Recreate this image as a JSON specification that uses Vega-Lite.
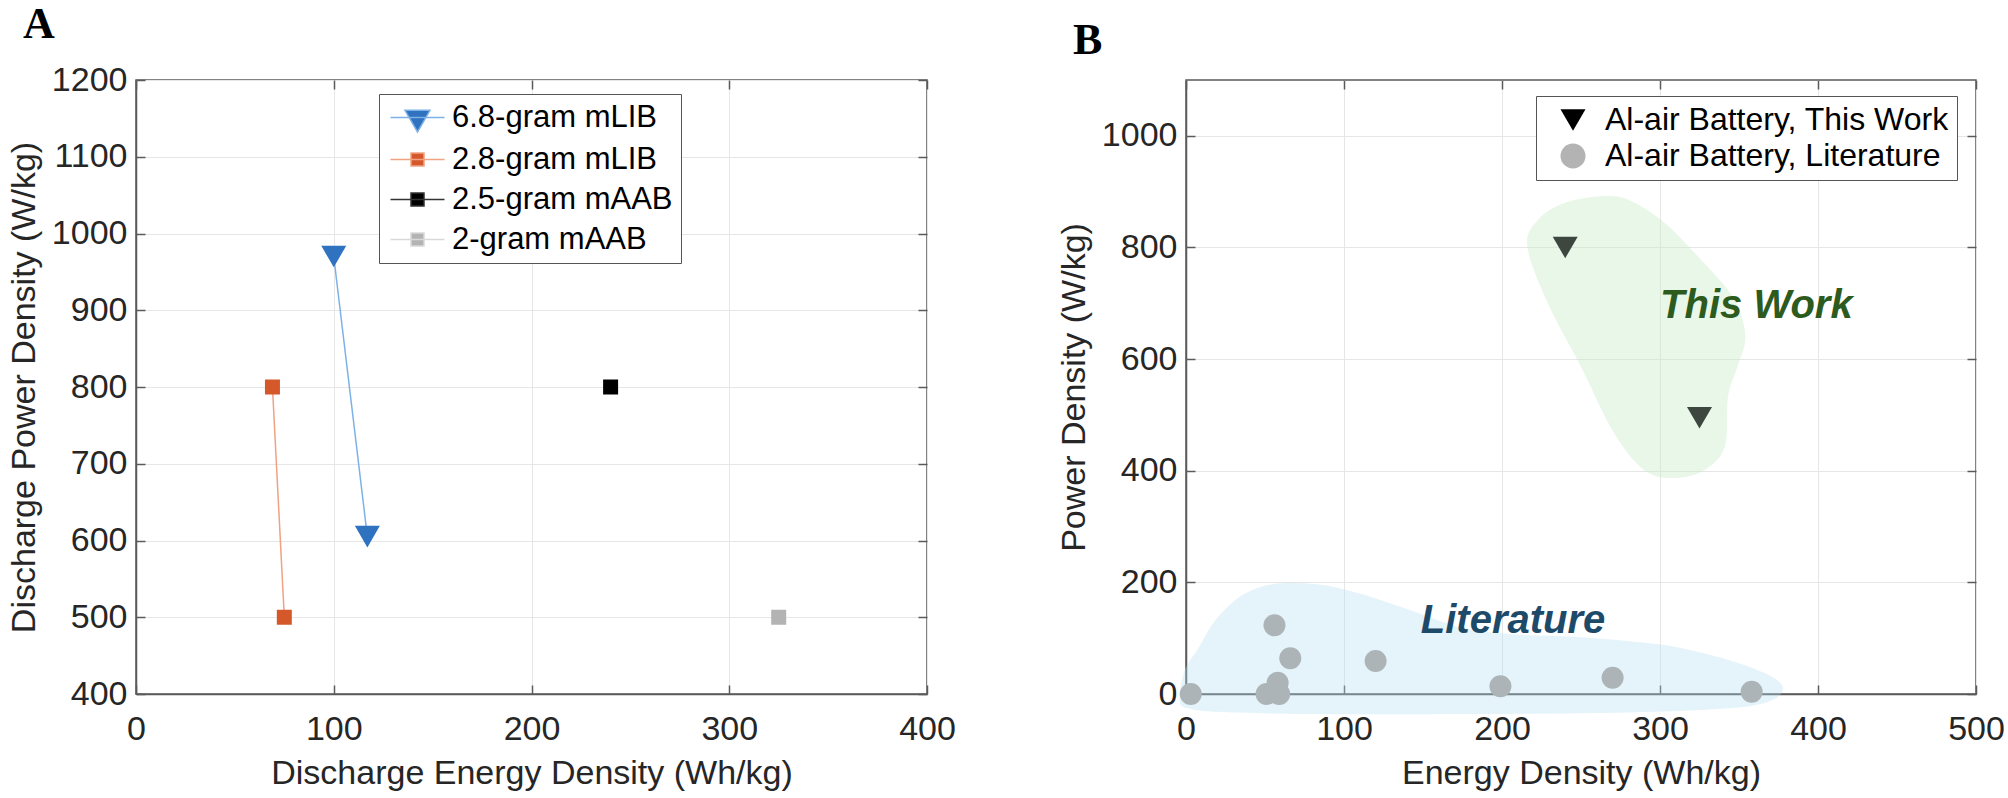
{
  "$schema": "https://vega.github.io/schema/vega-lite/v6.json",
  "autosize": {"type": "pad"},
  "padding": {"left": 6, "top": 2, "right": 0, "bottom": 0},
  "background": "white",
  "config": {
    "font": "Liberation Sans",
    "view": {"stroke": "#5a5a5a", "strokeWidth": 1.5},
    "axis": {
      "labelFont": "Liberation Sans", "labelFontSize": 34, "labelColor": "#262626", "format": "d",
      "titleFont": "Liberation Sans", "titleFontSize": 34, "titleFontWeight": "normal", "titleColor": "#262626",
      "domainColor": "#5a5a5a", "domainWidth": 1.5,
      "gridColor": "#e6e6e6", "gridWidth": 1,
      "tickColor": "#5a5a5a", "tickSize": -9, "tickWidth": 1.5,
      "labelFlush": false, "labelOverlap": false, "titlePadding": 10
    },
    "axisX": {"labelPadding": 27},
    "axisY": {"labelPadding": 18}
  },
  "datasets": {
    "seriesA": [
      {"series": "6.8-gram mLIB", "x": 100, "y": 970},
      {"series": "6.8-gram mLIB", "x": 117, "y": 605},
      {"series": "2.8-gram mLIB", "x": 69, "y": 800},
      {"series": "2.8-gram mLIB", "x": 75, "y": 500},
      {"series": "2.5-gram mAAB", "x": 240, "y": 800},
      {"series": "2-gram mAAB", "x": 325, "y": 500}
    ],
    "pointsB": [
      {"series": "Al-air Battery, This Work", "x": 240, "y": 800},
      {"series": "Al-air Battery, This Work", "x": 325, "y": 495},
      {"series": "Al-air Battery, Literature", "x": 3, "y": 0},
      {"series": "Al-air Battery, Literature", "x": 56, "y": 123},
      {"series": "Al-air Battery, Literature", "x": 66, "y": 64},
      {"series": "Al-air Battery, Literature", "x": 58, "y": 20},
      {"series": "Al-air Battery, Literature", "x": 51, "y": 0},
      {"series": "Al-air Battery, Literature", "x": 59, "y": 0},
      {"series": "Al-air Battery, Literature", "x": 120, "y": 59},
      {"series": "Al-air Battery, Literature", "x": 199, "y": 14},
      {"series": "Al-air Battery, Literature", "x": 270, "y": 29},
      {"series": "Al-air Battery, Literature", "x": 358, "y": 4}
    ],
    "blobs": [
      {"blob": "work", "i": 1, "x": 216, "y": 802},
      {"blob": "work", "i": 2, "x": 229, "y": 700},
      {"blob": "work", "i": 3, "x": 250, "y": 586},
      {"blob": "work", "i": 4, "x": 271, "y": 467},
      {"blob": "work", "i": 5, "x": 290, "y": 401},
      {"blob": "work", "i": 6, "x": 309, "y": 387},
      {"blob": "work", "i": 7, "x": 328, "y": 401},
      {"blob": "work", "i": 8, "x": 341, "y": 443},
      {"blob": "work", "i": 9, "x": 343, "y": 532},
      {"blob": "work", "i": 10, "x": 349, "y": 586},
      {"blob": "work", "i": 11, "x": 354, "y": 634},
      {"blob": "work", "i": 12, "x": 351, "y": 682},
      {"blob": "work", "i": 13, "x": 343, "y": 724},
      {"blob": "work", "i": 14, "x": 324, "y": 784},
      {"blob": "work", "i": 15, "x": 303, "y": 844},
      {"blob": "work", "i": 16, "x": 282, "y": 883},
      {"blob": "work", "i": 17, "x": 265, "y": 892},
      {"blob": "work", "i": 18, "x": 240, "y": 880},
      {"blob": "work", "i": 19, "x": 223, "y": 850},
      {"blob": "lit", "i": 1, "x": -4, "y": -13},
      {"blob": "lit", "i": 2, "x": -1, "y": 41},
      {"blob": "lit", "i": 3, "x": 8, "y": 83},
      {"blob": "lit", "i": 4, "x": 20, "y": 137},
      {"blob": "lit", "i": 5, "x": 37, "y": 179},
      {"blob": "lit", "i": 6, "x": 58, "y": 198},
      {"blob": "lit", "i": 7, "x": 84, "y": 196},
      {"blob": "lit", "i": 8, "x": 111, "y": 179},
      {"blob": "lit", "i": 9, "x": 143, "y": 149},
      {"blob": "lit", "i": 10, "x": 174, "y": 119},
      {"blob": "lit", "i": 11, "x": 206, "y": 107},
      {"blob": "lit", "i": 12, "x": 248, "y": 102},
      {"blob": "lit", "i": 13, "x": 299, "y": 89},
      {"blob": "lit", "i": 14, "x": 330, "y": 71},
      {"blob": "lit", "i": 15, "x": 358, "y": 47},
      {"blob": "lit", "i": 16, "x": 375, "y": 23},
      {"blob": "lit", "i": 17, "x": 377, "y": 2},
      {"blob": "lit", "i": 18, "x": 366, "y": -16},
      {"blob": "lit", "i": 19, "x": 341, "y": -26},
      {"blob": "lit", "i": 20, "x": 280, "y": -33},
      {"blob": "lit", "i": 21, "x": 180, "y": -36},
      {"blob": "lit", "i": 22, "x": 80, "y": -36},
      {"blob": "lit", "i": 23, "x": 20, "y": -32},
      {"blob": "lit", "i": 24, "x": 2, "y": -26}
    ],
    "notes": [
      {"label": "This Work", "x": 361, "y": 674},
      {"label": "Literature", "x": 207, "y": 110}
    ]
  },
  "bounds": "flush",
  "spacing": 259,
  "resolve": {
    "scale": {"shape": "independent", "fill": "independent", "stroke": "independent"},
    "legend": {"shape": "independent", "fill": "independent", "stroke": "independent"}
  },
  "hconcat": [
    {
      "width": 791,
      "height": 614,
      "title": {"text": "A", "anchor": "start", "frame": "group", "dx": -113, "offset": -19, "baseline": "alphabetic", "font": "Liberation Serif", "fontSize": 44, "fontWeight": "bold", "color": "black"},
      "resolve": {"axis": {"x": "independent", "y": "independent"}},
      "layer": [
        {
          "data": {"name": "seriesA"},
          "transform": [{"filter": {"field": "series", "equal": "6.8-gram mLIB"}}],
          "mark": {"type": "line", "stroke": "#7db1e6", "strokeWidth": 1.5},
          "encoding": {
            "x": {"field": "x", "type": "quantitative", "scale": {"domain": [0, 400], "nice": false, "zero": false}, "axis": {"values": [0, 100, 200, 300, 400], "title": "Discharge Energy Density (Wh/kg)"}},
            "y": {"field": "y", "type": "quantitative", "scale": {"domain": [400, 1200], "nice": false, "zero": false}, "axis": {"values": [400, 500, 600, 700, 800, 900, 1000, 1100, 1200], "title": "Discharge Power Density (W/kg)"}}
          }
        },
        {
          "data": {"name": "seriesA"},
          "transform": [{"filter": {"field": "x", "lt": -10000}}],
          "mark": {"type": "point", "opacity": 0},
          "encoding": {
            "x": {"field": "x", "type": "quantitative", "axis": {"orient": "top", "values": [0, 100, 200, 300, 400], "labels": false, "title": null, "grid": false, "domain": false}},
            "y": {"field": "y", "type": "quantitative", "axis": {"orient": "right", "values": [400, 500, 600, 700, 800, 900, 1000, 1100, 1200], "labels": false, "title": null, "grid": false, "domain": false}}
          }
        },
        {
          "data": {"name": "seriesA"},
          "transform": [{"filter": {"field": "series", "equal": "2.8-gram mLIB"}}],
          "mark": {"type": "line", "stroke": "#f0a283", "strokeWidth": 1.5},
          "encoding": {"x": {"field": "x", "type": "quantitative", "axis": null}, "y": {"field": "y", "type": "quantitative", "axis": null}}
        },
        {
          "data": {"name": "seriesA"},
          "transform": [{"filter": {"field": "series", "equal": "6.8-gram mLIB"}}],
          "mark": {"type": "point", "shape": "triangle-down", "size": 625, "filled": true, "fill": "#2e72c0", "opacity": 1, "strokeWidth": 0},
          "encoding": {"x": {"field": "x", "type": "quantitative", "axis": null}, "y": {"field": "y", "type": "quantitative", "axis": null}}
        },
        {
          "data": {"name": "seriesA"},
          "transform": [{"filter": {"field": "series", "equal": "2.8-gram mLIB"}}],
          "mark": {"type": "point", "shape": "square", "size": 225, "filled": true, "fill": "#d4582a", "opacity": 1, "strokeWidth": 0},
          "encoding": {"x": {"field": "x", "type": "quantitative", "axis": null}, "y": {"field": "y", "type": "quantitative", "axis": null}}
        },
        {
          "data": {"name": "seriesA"},
          "transform": [{"filter": {"field": "series", "equal": "2.5-gram mAAB"}}],
          "mark": {"type": "point", "shape": "square", "size": 225, "filled": true, "fill": "#000000", "opacity": 1, "strokeWidth": 0},
          "encoding": {"x": {"field": "x", "type": "quantitative", "axis": null}, "y": {"field": "y", "type": "quantitative", "axis": null}}
        },
        {
          "data": {"name": "seriesA"},
          "transform": [{"filter": {"field": "series", "equal": "2-gram mAAB"}}],
          "mark": {"type": "point", "shape": "square", "size": 225, "filled": true, "fill": "#b3b3b3", "opacity": 1, "strokeWidth": 0},
          "encoding": {"x": {"field": "x", "type": "quantitative", "axis": null}, "y": {"field": "y", "type": "quantitative", "axis": null}}
        },
        {
          "data": {"name": "seriesA"},
          "transform": [{"filter": {"field": "x", "lt": -10000}}],
          "mark": {"type": "point", "filled": true, "opacity": 1, "size": 400, "strokeWidth": 1.5},
          "encoding": {
            "x": {"field": "x", "type": "quantitative", "axis": null},
            "y": {"field": "y", "type": "quantitative", "axis": null},
            "shape": {"field": "series", "type": "nominal",
              "scale": {"domain": ["6.8-gram mLIB", "2.8-gram mLIB", "2.5-gram mAAB", "2-gram mAAB"],
                "range": ["M-2.7,0H2.7M-1.25,-0.72L1.25,-0.72L0,1.44Z", "M-2.7,0H2.7M-0.65,-0.65H0.65V0.65H-0.65Z", "M-2.7,0H2.7M-0.65,-0.65H0.65V0.65H-0.65Z", "M-2.7,0H2.7M-0.65,-0.65H0.65V0.65H-0.65Z"]},
              "legend": {"title": null, "orient": "none", "legendX": 243, "legendY": 14, "padding": 8, "strokeColor": "#555555", "fillColor": "white", "labelFont": "Liberation Sans", "labelFontSize": 31, "labelColor": "black", "labelLimit": 0, "symbolSize": 400, "symbolStrokeWidth": 1.5, "symbolOffset": 15, "labelOffset": 19, "rowPadding": 8}},
            "fill": {"field": "series", "type": "nominal",
              "scale": {"domain": ["6.8-gram mLIB", "2.8-gram mLIB", "2.5-gram mAAB", "2-gram mAAB"], "range": ["#2e72c0", "#d4582a", "#000000", "#b3b3b3"]}},
            "stroke": {"field": "series", "type": "nominal",
              "scale": {"domain": ["6.8-gram mLIB", "2.8-gram mLIB", "2.5-gram mAAB", "2-gram mAAB"], "range": ["#7db1e6", "#f0a283", "#333333", "#d9d9d9"]}}
          }
        }
      ]
    },
    {
      "width": 790,
      "height": 614,
      "title": {"text": "B", "anchor": "start", "frame": "group", "dx": -113, "offset": -19, "baseline": "alphabetic", "font": "Liberation Serif", "fontSize": 44, "fontWeight": "bold", "color": "black"},
      "resolve": {"axis": {"x": "independent", "y": "independent"}},
      "layer": [
        {
          "data": {"name": "blobs"},
          "transform": [{"filter": {"field": "blob", "equal": "work"}}],
          "mark": {"type": "line", "interpolate": "cardinal-closed", "fill": "#c8ecc8", "fillOpacity": 0.4, "strokeOpacity": 0},
          "encoding": {
            "x": {"field": "x", "type": "quantitative", "scale": {"domain": [0, 500], "nice": false, "zero": false}, "axis": {"values": [0, 100, 200, 300, 400, 500], "title": "Energy Density (Wh/kg)"}},
            "y": {"field": "y", "type": "quantitative", "scale": {"domain": [0, 1100], "nice": false, "zero": false}, "axis": {"values": [0, 200, 400, 600, 800, 1000], "title": "Power Density (W/kg)"}},
            "order": {"field": "i", "type": "quantitative"}
          }
        },
        {
          "data": {"name": "pointsB"},
          "transform": [{"filter": {"field": "x", "lt": -10000}}],
          "mark": {"type": "point", "opacity": 0},
          "encoding": {
            "x": {"field": "x", "type": "quantitative", "axis": {"orient": "top", "values": [0, 100, 200, 300, 400, 500], "labels": false, "title": null, "grid": false, "domain": false}},
            "y": {"field": "y", "type": "quantitative", "axis": {"orient": "right", "values": [0, 200, 400, 600, 800, 1000], "labels": false, "title": null, "grid": false, "domain": false}}
          }
        },
        {
          "data": {"name": "blobs"},
          "transform": [{"filter": {"field": "blob", "equal": "lit"}}],
          "mark": {"type": "line", "interpolate": "cardinal-closed", "fill": "#b4dcf0", "fillOpacity": 0.35, "strokeOpacity": 0},
          "encoding": {
            "x": {"field": "x", "type": "quantitative", "axis": null},
            "y": {"field": "y", "type": "quantitative", "axis": null},
            "order": {"field": "i", "type": "quantitative"}
          }
        },
        {
          "data": {"name": "pointsB"},
          "transform": [{"filter": {"field": "series", "equal": "Al-air Battery, Literature"}}],
          "mark": {"type": "point", "shape": "circle", "size": 484, "filled": true, "fill": "#adb4b8", "opacity": 1, "strokeWidth": 0},
          "encoding": {"x": {"field": "x", "type": "quantitative", "axis": null}, "y": {"field": "y", "type": "quantitative", "axis": null}}
        },
        {
          "data": {"name": "pointsB"},
          "transform": [{"filter": {"field": "series", "equal": "Al-air Battery, This Work"}}],
          "mark": {"type": "point", "shape": "triangle-down", "size": 625, "filled": true, "fill": "#3d4740", "opacity": 1, "strokeWidth": 0},
          "encoding": {"x": {"field": "x", "type": "quantitative", "axis": null}, "y": {"field": "y", "type": "quantitative", "axis": null}}
        },
        {
          "data": {"name": "notes"},
          "transform": [{"filter": {"field": "label", "equal": "This Work"}}],
          "mark": {"type": "text", "font": "Liberation Sans", "fontSize": 40, "fontWeight": "bold", "fontStyle": "italic", "color": "#2d5a1d", "align": "center", "baseline": "alphabetic"},
          "encoding": {"x": {"field": "x", "type": "quantitative", "axis": null}, "y": {"field": "y", "type": "quantitative", "axis": null}, "text": {"field": "label"}}
        },
        {
          "data": {"name": "notes"},
          "transform": [{"filter": {"field": "label", "equal": "Literature"}}],
          "mark": {"type": "text", "font": "Liberation Sans", "fontSize": 40, "fontWeight": "bold", "fontStyle": "italic", "color": "#1e4a6a", "align": "center", "baseline": "alphabetic"},
          "encoding": {"x": {"field": "x", "type": "quantitative", "axis": null}, "y": {"field": "y", "type": "quantitative", "axis": null}, "text": {"field": "label"}}
        },
        {
          "data": {"name": "pointsB"},
          "transform": [{"filter": {"field": "x", "lt": -10000}}],
          "mark": {"type": "point", "filled": true, "opacity": 1, "strokeWidth": 0},
          "encoding": {
            "x": {"field": "x", "type": "quantitative", "axis": null},
            "y": {"field": "y", "type": "quantitative", "axis": null},
            "shape": {"field": "series", "type": "nominal",
              "scale": {"domain": ["Al-air Battery, This Work", "Al-air Battery, Literature"], "range": ["triangle-down", "circle"]},
              "legend": {"title": null, "orient": "none", "legendX": 350, "legendY": 16, "padding": 8, "strokeColor": "#555555", "fillColor": "white", "labelFont": "Liberation Sans", "labelFontSize": 32, "labelColor": "black", "labelLimit": 0, "symbolSize": 625, "symbolOffset": 13, "labelOffset": 16, "rowPadding": 4}},
            "fill": {"field": "series", "type": "nominal",
              "scale": {"domain": ["Al-air Battery, This Work", "Al-air Battery, Literature"], "range": ["#000000", "#b3b3b3"]}}
          }
        }
      ]
    }
  ]
}
